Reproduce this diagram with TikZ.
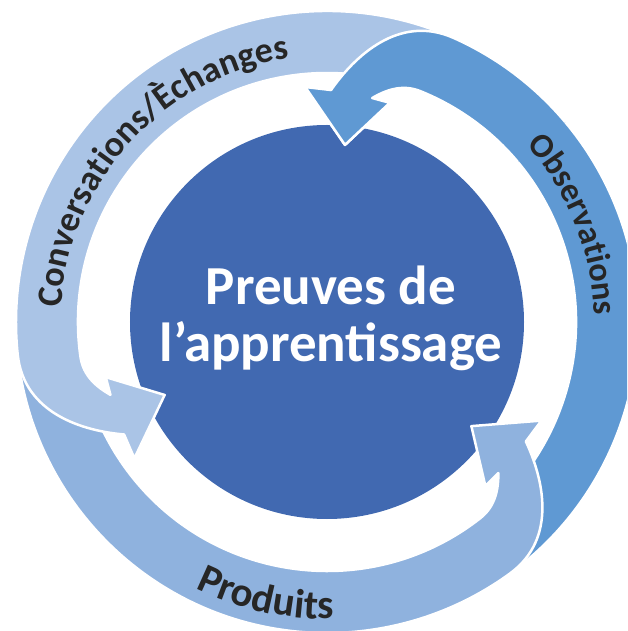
\documentclass[tikz,border=0pt]{standalone}
\usepackage{fontspec}
\setmainfont{Carlito}
\usetikzlibrary{decorations.text}

\definecolor{coreblue}{RGB}{65,105,177}
\definecolor{obsblue}{RGB}{95,153,211}
\definecolor{prodblue}{RGB}{143,178,222}
\definecolor{convblue}{RGB}{170,196,230}
\definecolor{labelgray}{RGB}{38,38,38}

\newcommand{\ringfont}[1]{\fontsize{#1}{#1}\selectfont\bfseries}
\newcommand{\corefont}{\fontsize{55}{60}\selectfont\bfseries}
\newcommand{\cyclearrow}{(-62:249) -- (-62:311)
  arc[start angle=-62, end angle=66, radius=311]
  .. controls (71.7,308.5) and (26.9,264.8) .. (89:232)
  -- (95.3:236) -- (84.2:178) -- (74:228) -- (78.6:228.5)
  .. controls +(30:15) and +(158:20) .. (68:249)
  arc[start angle=68, end angle=-62, radius=249] -- cycle}

\begin{document}
\begin{tikzpicture}[x=1pt, y=1pt,
    arrowpart/.style={draw=white, line width=2.5pt, line join=round},
    centertext/.style={text=white, font=\corefont, inner sep=0pt},
    ringlabel/.style={decorate, decoration={text along path, text align=center, text color=labelgray}}]
  \useasboundingbox (-327,-309) rectangle (300,322);
  \clip (-327,-309) rectangle (300,322);

  \fill[coreblue] (0,0) circle[radius=197];

  \filldraw[arrowpart, fill=obsblue] \cyclearrow;
  \filldraw[arrowpart, fill=prodblue, rotate=240] \cyclearrow;
  \filldraw[arrowpart, fill=convblue, rotate=120] \cyclearrow;
  \begin{scope}
    \clip (0,0) -- (40:340) arc[start angle=40, end angle=115, radius=340] -- cycle;
    \filldraw[arrowpart, fill=obsblue] \cyclearrow;
  \end{scope}

  \node[centertext, anchor=base] (line1) at (4,17) {Preuves de};
  \node[centertext, anchor=base] (line2) at (4,-40) {l’apprentissage};

  \path[ringlabel, decoration={text={|\ringfont{36}|Conversations/Èchanges}}]
    (197.5:266) arc[start angle=197.5, end angle=77.5, radius=266];
  \path[ringlabel, decoration={text={|\ringfont{34}|Observations}}]
    (61.5:267) arc[start angle=61.5, end angle=-18.5, radius=267];
  \path[ringlabel, decoration={text={|\ringfont{41}|Produits}}]
    (227.5:297) arc[start angle=227.5, end angle=287.5, radius=297];
\end{tikzpicture}
\end{document}
